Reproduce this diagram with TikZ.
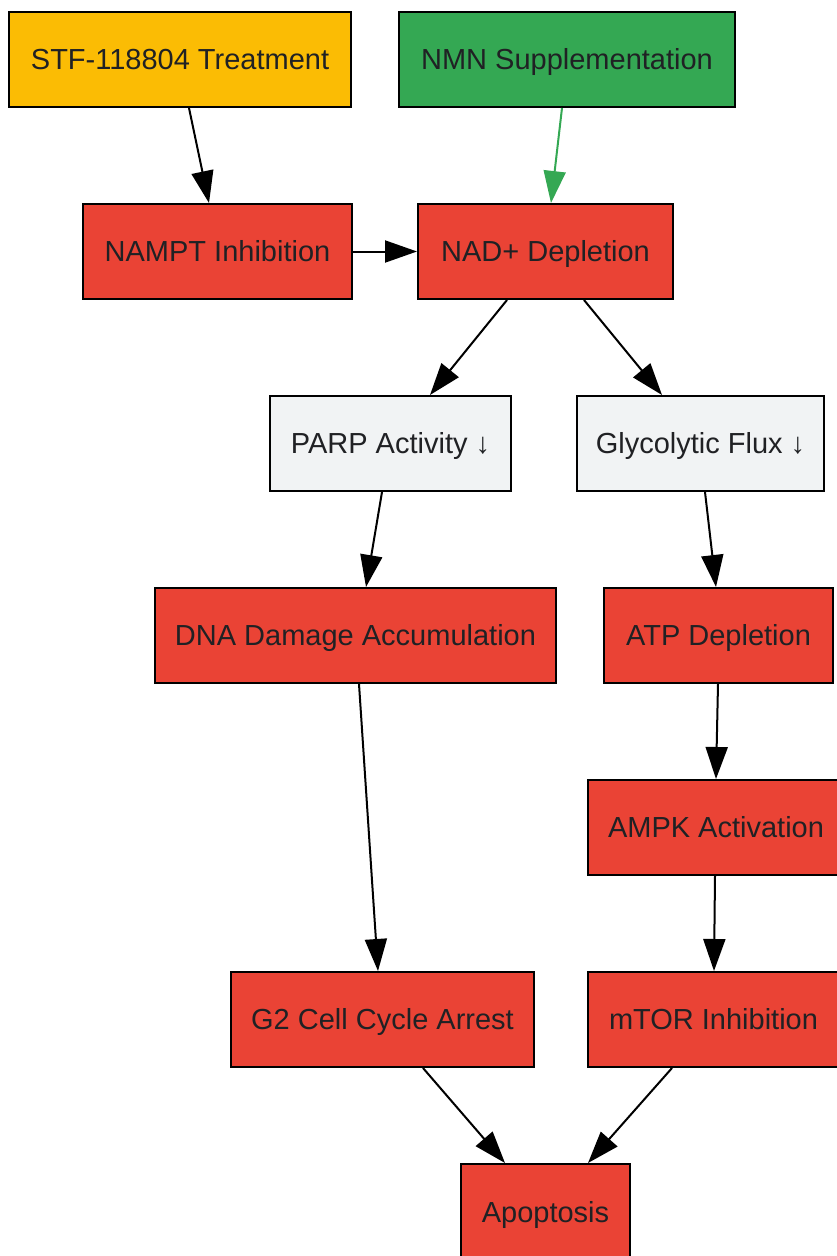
\documentclass[tikz,border=0pt]{standalone}
\usepackage{fontspec}
\setmainfont{Liberation Sans}
\usetikzlibrary{arrows.meta}
\definecolor{cyellow}{HTML}{FBBC04}
\definecolor{cgreen}{HTML}{34A853}
\definecolor{cred}{HTML}{EA4335}
\definecolor{cgray}{HTML}{F1F3F4}
\definecolor{ctext}{HTML}{202124}

\begin{document}
\begin{tikzpicture}[%
    x=1pt, y=-1pt,                % pixel-like coordinates, top-down
    >={Triangle[length=32pt, width=22pt]},
    font=\fontsize{29}{34}\selectfont,
    ]
% -------------------------------------------------
% Box styles
\tikzset{
base/.style={draw=black, line width=2pt, rectangle, align=center,
    inner sep=0pt, minimum height=95pt, text=ctext,
    text height=20.7pt, text depth=0pt},
treat/.style={base, fill=cyellow},
rescue/.style={base, fill=cgreen},
effect/.style={base, fill=cred},
marker/.style={base, fill=cgray},
% -------------------------------------------------
% Connector styles
norm/.style={->, draw, line width=2pt},
rescueline/.style={norm, cgreen},
}
\useasboundingbox (0,0) rectangle (836,1256);
% -------------------------------------------------
% Nodes, top to bottom
\node [treat, minimum width=342pt]  (stf)   at (180,59.5)    {STF-118804 Treatment};
\node [rescue, minimum width=336pt] (nmn)   at (567,59.5)    {NMN Supplementation};

\node [effect, minimum width=269pt] (nampt) at (217.5,251.5) {NAMPT Inhibition};
\node [effect, minimum width=255pt] (nad)   at (545.5,251.5) {NAD+ Depletion};

\node [marker, minimum width=241pt] (parp)  at (390.5,443.5) {PARP Activity ↓};
\node [marker, minimum width=247pt] (glyco) at (700.5,443.5) {Glycolytic Flux ↓};

\node [effect, minimum width=401pt] (dna)   at (355.5,635.5) {DNA Damage Accumulation};
\node [effect, minimum width=229pt] (atp)   at (718.5,635.5) {ATP Depletion};

\node [effect, minimum width=256pt] (ampk)  at (716,827.5)   {AMPK Activation};

\node [effect, minimum width=303pt] (gtwo)  at (382.5,1019.5) {G2 Cell Cycle Arrest};
\node [effect, minimum width=251pt] (mtor)  at (713.5,1019.5) {mTOR Inhibition};

\node [effect, minimum width=169pt, minimum height=96pt] (apop) at (545.5,1212) {Apoptosis};

% -------------------------------------------------
% Connectors
\draw [norm] ([xshift=9]stf.south) -- ([xshift=-8.5]nampt.north);
\draw [rescueline] ([xshift=-5]nmn.south) -- ([xshift=5.5]nad.north);
\draw [norm] (nampt.east) -- (nad.west);

\draw [norm] ([xshift=-38.5]nad.south) -- ([xshift=39.5]parp.north);
\draw [norm] ([xshift=38.5]nad.south) -- ([xshift=-38.5]glyco.north);

\draw [norm] ([xshift=-8.5]parp.south) -- ([xshift=10.5]dna.north);
\draw [norm] ([xshift=4.5]glyco.south) -- ([xshift=-2.5]atp.north);

\draw [norm] ([xshift=3.5]dna.south) -- ([xshift=-4.5]gtwo.north);
\draw [norm] ([xshift=-0.5]atp.south) -- (ampk.north);
\draw [norm] ([xshift=-1]ampk.south) -- ([xshift=0.5]mtor.north);

\draw [norm] ([xshift=40.5]gtwo.south) -- ([xshift=-40.5]apop.north);
\draw [norm] ([xshift=-41.5]mtor.south) -- ([xshift=42.5]apop.north);

\end{tikzpicture}
\end{document}
